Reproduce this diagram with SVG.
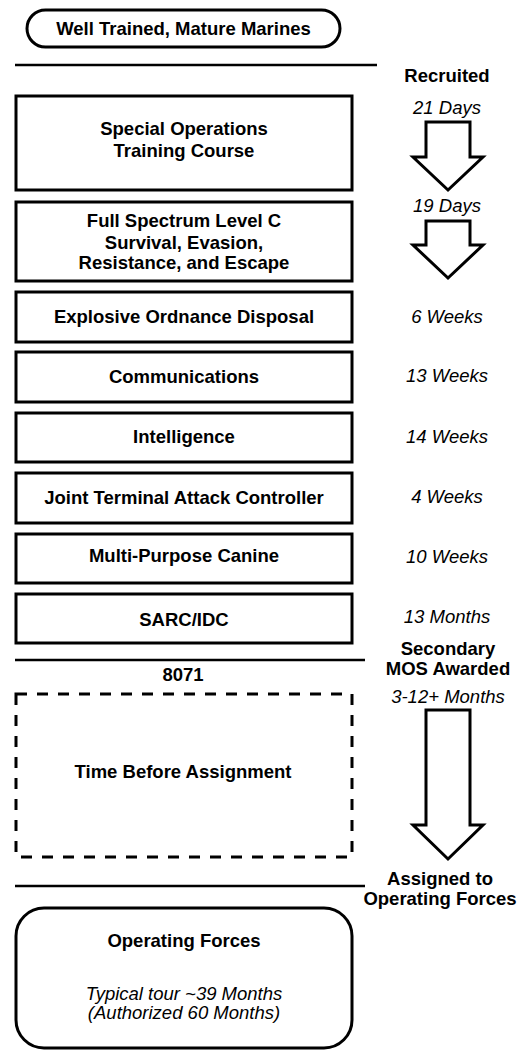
<svg xmlns="http://www.w3.org/2000/svg" width="527" height="1053" viewBox="0 0 527 1053">
<style>
.box{fill:#fff;stroke:#000;stroke-width:3}
.dash{fill:none;stroke:#000;stroke-width:3;stroke-dasharray:11 10}
.rule{stroke:#000;stroke-width:2.5}
.arrow{fill:#fff;stroke:#000;stroke-width:3;stroke-linejoin:miter}
.b{font-family:"Liberation Sans",Arial,sans-serif;font-weight:bold;font-size:18.5px;text-anchor:middle;fill:#000}
.i{font-family:"Liberation Sans",Arial,sans-serif;font-style:italic;font-size:18.5px;text-anchor:middle;fill:#000}
</style>
<rect width="527" height="1053" fill="#fff"/>
<g id="start">
<rect class="box" x="27" y="10" width="313" height="37" rx="18.5"/>
<text class="b" x="183.5" y="35">Well Trained, Mature Marines</text>
</g>
<g id="connectors">
<line class="rule" x1="15" y1="65" x2="377" y2="65"/>
<line class="rule" x1="15" y1="660" x2="365" y2="660"/>
<line class="rule" x1="15" y1="886" x2="365" y2="886"/>
<polygon class="arrow" points="426,122 470,122 470,157 483,157 448,190 413,157 426,157"/>
<polygon class="arrow" points="426,221 470,221 470,245 483,245 448,278 413,245 426,245"/>
<polygon class="arrow" points="426,710 470,710 470,825 483,825 448,859 413,825 426,825"/>
</g>
<g id="labels">
<text class="b" x="447" y="82">Recruited</text>
<text class="i" x="447" y="114">21 Days</text>
<text class="i" x="447" y="212">19 Days</text>
<text class="i" x="447" y="323">6 Weeks</text>
<text class="i" x="447" y="382">13 Weeks</text>
<text class="i" x="447" y="443">14 Weeks</text>
<text class="i" x="447" y="503">4 Weeks</text>
<text class="i" x="447" y="563">10 Weeks</text>
<text class="i" x="447" y="623">13 Months</text>
<text class="b" x="448" y="655">Secondary</text>
<text class="b" x="448" y="675">MOS Awarded</text>
<text class="i" x="448" y="703">3-12+ Months</text>
<text class="b" x="440" y="885">Assigned to</text>
<text class="b" x="440" y="905">Operating Forces</text>
<text class="b" x="183" y="681">8071</text>
</g>
<g id="sotc">
<rect class="box" x="16" y="96" width="336" height="94"/>
<text class="b" x="184" y="135">Special Operations</text>
<text class="b" x="184" y="157">Training Course</text>
</g>
<g id="sere">
<rect class="box" x="16" y="202" width="336" height="79"/>
<text class="b" x="184" y="227">Full Spectrum Level C</text>
<text class="b" x="184" y="249">Survival, Evasion,</text>
<text class="b" x="184" y="269">Resistance, and Escape</text>
</g>
<g id="eod">
<rect class="box" x="16" y="292" width="336" height="50"/>
<text class="b" x="184" y="323">Explosive Ordnance Disposal</text>
</g>
<g id="comm">
<rect class="box" x="16" y="352" width="336" height="50"/>
<text class="b" x="184" y="383">Communications</text>
</g>
<g id="intel">
<rect class="box" x="16" y="413" width="336" height="49"/>
<text class="b" x="184" y="443">Intelligence</text>
</g>
<g id="jtac">
<rect class="box" x="16" y="473" width="336" height="50"/>
<text class="b" x="184" y="504">Joint Terminal Attack Controller</text>
</g>
<g id="mpc">
<rect class="box" x="16" y="534" width="336" height="49"/>
<text class="b" x="184" y="562">Multi-Purpose Canine</text>
</g>
<g id="sarc">
<rect class="box" x="16" y="594" width="336" height="49"/>
<text class="b" x="184" y="626">SARC/IDC</text>
</g>
<g id="wait">
<rect class="dash" x="16" y="694" width="336" height="163"/>
<text class="b" x="183" y="778">Time Before Assignment</text>
</g>
<g id="opforces">
<rect class="box" x="16" y="908" width="336" height="140" rx="28"/>
<text class="b" x="184" y="947">Operating Forces</text>
<text class="i" x="184" y="1000">Typical tour ~39 Months</text>
<text class="i" x="184" y="1019">(Authorized 60 Months)</text>
</g>
</svg>
